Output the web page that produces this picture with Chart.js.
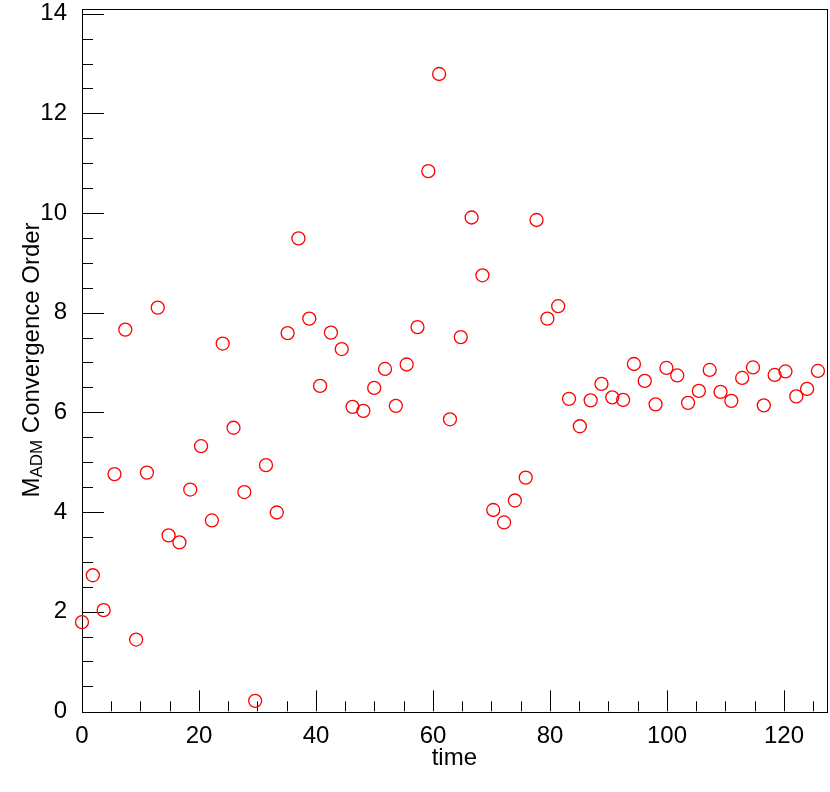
<!DOCTYPE html>
<html>
<head>
<meta charset="utf-8">
<script src="https://cdn.jsdelivr.net/npm/chart.js@4"></script>
<style>
  body { margin: 0; background: #fff; }
  canvas { display: block; }
</style>
</head>
<body>
<canvas id="orderChart" width="830" height="792"></canvas>
<script>
// time of each sample
const times = [0, 1.85, 3.7, 5.55, 7.4, 9.25, 11.1, 12.95, 14.8, 16.65,
  18.5, 20.35, 22.2, 24.05, 25.9, 27.75, 29.6, 31.45, 33.3, 35.15,
  37, 38.85, 40.7, 42.55, 44.4, 46.25, 48.1, 49.95, 51.8, 53.65,
  55.5, 57.35, 59.2, 61.05, 62.9, 64.75, 66.6, 68.45, 70.3, 72.15,
  74, 75.85, 77.7, 79.55, 81.4, 83.25, 85.1, 86.95, 88.8, 90.65,
  92.5, 94.35, 96.2, 98.05, 99.9, 101.75, 103.6, 105.45, 107.3, 109.15,
  111, 112.85, 114.7, 116.55, 118.4, 120.25, 122.1, 123.95, 125.8];

// M_ADM convergence order
const order = [1.79, 2.73, 2.03, 4.76, 7.66, 1.44, 4.79, 8.10, 3.53, 3.39,
  4.45, 5.32, 3.83, 7.38, 5.69, 4.40, 0.21, 4.94, 3.99, 7.59,
  9.49, 7.88, 6.53, 7.60, 7.27, 6.11, 6.03, 6.49, 6.87, 6.13,
  6.96, 7.71, 10.84, 12.79, 5.86, 7.51, 9.91, 8.75, 4.04, 3.79,
  4.23, 4.69, 9.86, 7.88, 8.13, 6.27, 5.72, 6.24, 6.57, 6.30,
  6.25, 6.97, 6.63, 6.16, 6.89, 6.74, 6.19, 6.43, 6.85, 6.41,
  6.23, 6.69, 6.90, 6.14, 6.75, 6.82, 6.32, 6.47, 6.83];

const xRange = [0, 127.3];
const yRange = [0, 14.1];
const xMajor = [0, 20, 40, 60, 80, 100, 120];
const yMajor = [0, 2, 4, 6, 8, 10, 12, 14];
const xMinorStep = 5;
const yMinorStep = 0.5;

const FONT = '"Liberation Sans", Arial, Helvetica, sans-serif';

// ROOT-like frame: box, inward ticks, axis titles
const rootFrame = {
  id: 'rootFrame',
  beforeDatasetsDraw(chart) {
    const { ctx, chartArea: a, scales: { x, y } } = chart;
    ctx.save();
    ctx.strokeStyle = '#000';
    ctx.lineWidth = 1;

    ctx.beginPath();
    for (let v = xMinorStep; v <= xRange[1]; v += xMinorStep) {
      const px = Math.round(x.getPixelForValue(v)) + 0.5;
      const len = xMajor.includes(v) ? 21 : 10;
      ctx.moveTo(px, a.bottom);
      ctx.lineTo(px, a.bottom - len);
    }
    for (let v = yMinorStep; v <= yRange[1] + 1e-9; v += yMinorStep) {
      const py = Math.round(y.getPixelForValue(v)) + 0.5;
      const len = yMajor.includes(v) ? 22 : 11;
      ctx.moveTo(a.left, py);
      ctx.lineTo(a.left + len, py);
    }
    ctx.stroke();

    ctx.strokeRect(Math.round(a.left) + 0.5, Math.round(a.top) + 0.5,
      Math.round(a.right - a.left), Math.round(a.bottom - a.top));
    ctx.restore();
  },
  afterDraw(chart) {
    const { ctx, chartArea: a } = chart;
    ctx.save();
    ctx.fillStyle = '#000';

    // x title
    ctx.font = '24px ' + FONT;
    ctx.textAlign = 'center';
    ctx.textBaseline = 'alphabetic';
    ctx.fillText('time', (a.left + a.right) / 2, 765);

    // y title with subscript
    const main = '24px ' + FONT;
    const sub = '17px ' + FONT;
    ctx.font = main;
    const wM = ctx.measureText('M').width;
    const wRest = ctx.measureText(' Convergence Order').width;
    ctx.font = sub;
    const wSub = ctx.measureText('ADM').width;
    const total = wM + wSub + wRest;

    ctx.translate(39, (a.top + a.bottom) / 2);
    ctx.rotate(-Math.PI / 2);
    ctx.textAlign = 'left';
    let cx = -total / 2;
    ctx.font = main;
    ctx.fillText('M', cx, 0);
    cx += wM;
    ctx.font = sub;
    ctx.fillText('ADM', cx, 3);
    cx += wSub;
    ctx.font = main;
    ctx.fillText(' Convergence Order', cx, 0);
    ctx.restore();
  }
};

const ctx = document.getElementById('orderChart').getContext('2d');
new Chart(ctx, {
  type: 'scatter',
  data: {
    datasets: [{
      label: 'M_ADM convergence order',
      data: times.map((t, i) => ({ x: t, y: order[i] })),
      showLine: false,
      pointStyle: 'circle',
      pointRadius: 6.5,
      pointBorderWidth: 1.3,
      pointBorderColor: '#ff0000',
      pointBackgroundColor: 'rgba(0,0,0,0)',
      clip: false
    }]
  },
  options: {
    responsive: false,
    devicePixelRatio: 1,
    animation: false,
    layout: {
      autoPadding: false,
      padding: { top: 8.7, right: 3.3, left: 0, bottom: 0 }
    },
    plugins: {
      legend: { display: false },
      tooltip: { enabled: false }
    },
    scales: {
      x: {
        type: 'linear',
        min: xRange[0],
        max: xRange[1],
        grid: { display: false },
        border: { display: false },
        afterFit: (s) => {
          s.height = 80.7;
          s.paddingLeft = 0;
          s.paddingRight = 0;
        },
        afterBuildTicks: (s) => { s.ticks = xMajor.map(v => ({ value: v })); },
        ticks: {
          padding: 3,
          maxRotation: 0,
          color: '#000',
          font: { family: FONT, size: 24 }
        }
      },
      y: {
        type: 'linear',
        min: yRange[0],
        max: yRange[1],
        grid: { display: false },
        border: { display: false },
        afterFit: (s) => {
          s.width = 82;
          s.paddingTop = 0;
          s.paddingBottom = 0;
        },
        afterBuildTicks: (s) => { s.ticks = yMajor.map(v => ({ value: v })); },
        ticks: {
          padding: 7,
          color: '#000',
          font: { family: FONT, size: 24 }
        }
      }
    }
  },
  plugins: [rootFrame]
});
</script>
</body>
</html>
